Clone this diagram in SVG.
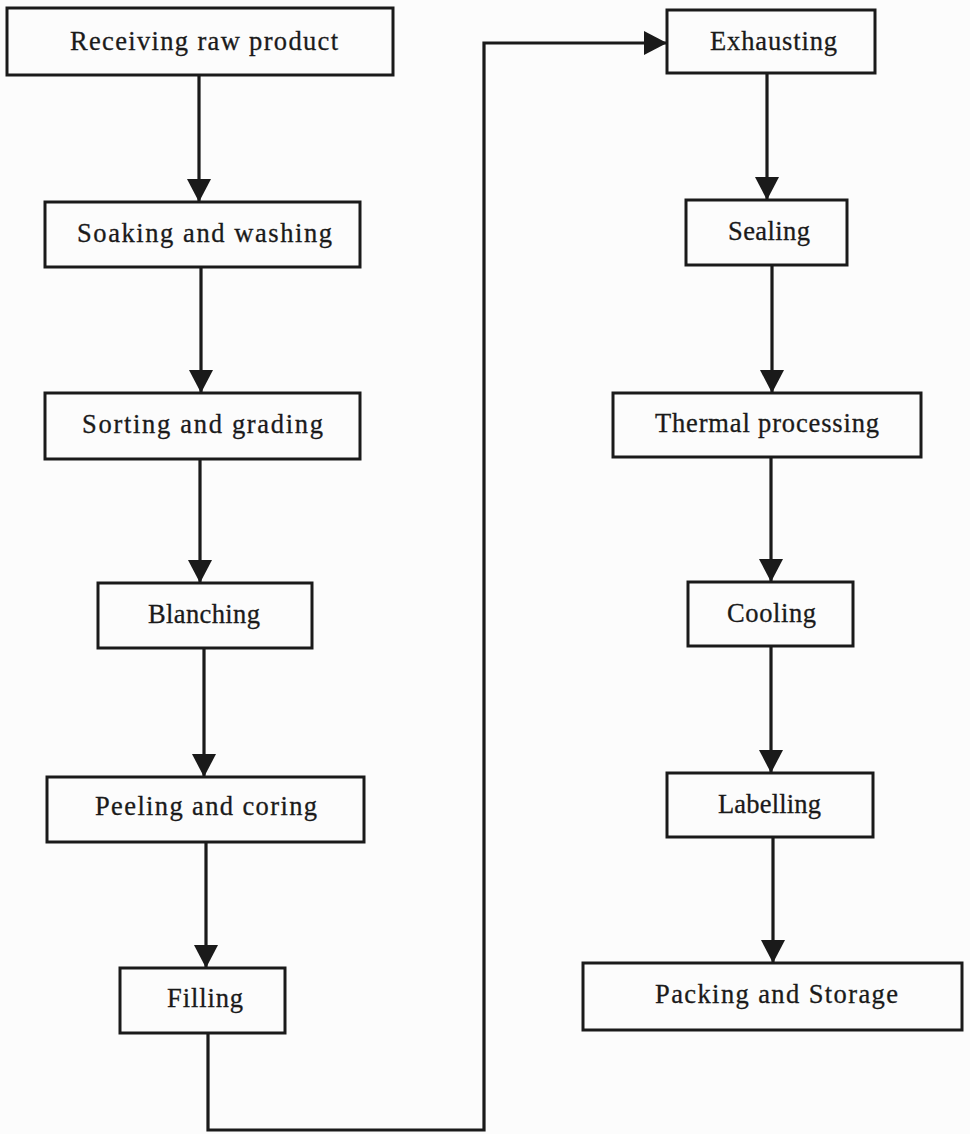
<svg xmlns="http://www.w3.org/2000/svg" width="970" height="1134" viewBox="0 0 970 1134">
<style>
.box{fill:none;stroke:#1a1a1a;stroke-width:3}
.lbl{font-family:"Liberation Serif","Times New Roman",serif;font-size:26.5px;fill:#1a1a1a;stroke:#1a1a1a;stroke-width:0.3;text-anchor:middle}
.con{fill:none;stroke:#1a1a1a;stroke-width:3.2;marker-end:url(#ah)}
</style>
<defs>
<marker id="ah" viewBox="0 0 23 24" refX="23" refY="12" markerWidth="23" markerHeight="24" markerUnits="userSpaceOnUse" orient="auto">
<path d="M0,0 L23,12 L0,24 Z" fill="#1a1a1a"/>
</marker>
</defs>
<rect width="970" height="1134" fill="#fcfcfc"/>
<g id="connectors">
<line class="con" x1="199" y1="76" x2="199" y2="202"/>
<line class="con" x1="201" y1="268" x2="201" y2="393"/>
<line class="con" x1="200" y1="460" x2="200" y2="583"/>
<line class="con" x1="204" y1="649" x2="204" y2="777"/>
<line class="con" x1="206" y1="843" x2="206" y2="968"/>
<polyline class="con" points="208,1034 208,1130 484,1130 484,43 667,43"/>
<line class="con" x1="767" y1="74" x2="767" y2="200"/>
<line class="con" x1="772" y1="266" x2="772" y2="393"/>
<line class="con" x1="771" y1="458" x2="771" y2="582"/>
<line class="con" x1="771" y1="647" x2="771" y2="773"/>
<line class="con" x1="773" y1="838" x2="773" y2="963"/>
</g>
<g id="n1"><rect class="box" x="7" y="8" width="386" height="67"/><text class="lbl" x="204" y="50" textLength="268" lengthAdjust="spacing">Receiving raw product</text></g>
<g id="n2"><rect class="box" x="45" y="202" width="315" height="65"/><text class="lbl" x="204.5" y="242" textLength="255" lengthAdjust="spacing">Soaking and washing</text></g>
<g id="n3"><rect class="box" x="45" y="393" width="315" height="66"/><text class="lbl" x="202.5" y="433" textLength="241" lengthAdjust="spacing">Sorting and grading</text></g>
<g id="n4"><rect class="box" x="98" y="583" width="214" height="65"/><text class="lbl" x="204" y="623" textLength="112" lengthAdjust="spacing">Blanching</text></g>
<g id="n5"><rect class="box" x="47" y="777" width="317" height="65"/><text class="lbl" x="206" y="815" textLength="222" lengthAdjust="spacing">Peeling and coring</text></g>
<g id="n6"><rect class="box" x="120" y="968" width="165" height="65"/><text class="lbl" x="205" y="1007" textLength="76" lengthAdjust="spacing">Filling</text></g>
<g id="n7"><rect class="box" x="667" y="10" width="208" height="63"/><text class="lbl" x="773.5" y="50" textLength="127" lengthAdjust="spacing">Exhausting</text></g>
<g id="n8"><rect class="box" x="686" y="200" width="161" height="65"/><text class="lbl" x="769" y="240" textLength="82" lengthAdjust="spacing">Sealing</text></g>
<g id="n9"><rect class="box" x="613" y="393" width="308" height="64"/><text class="lbl" x="767" y="432" textLength="224" lengthAdjust="spacing">Thermal processing</text></g>
<g id="n10"><rect class="box" x="688" y="582" width="165" height="64"/><text class="lbl" x="771.5" y="622" textLength="89" lengthAdjust="spacing">Cooling</text></g>
<g id="n11"><rect class="box" x="667" y="773" width="206" height="64"/><text class="lbl" x="769.5" y="813" textLength="103" lengthAdjust="spacing">Labelling</text></g>
<g id="n12"><rect class="box" x="583" y="963" width="379" height="67"/><text class="lbl" x="776.5" y="1003" textLength="243" lengthAdjust="spacing">Packing and Storage</text></g>
</svg>
